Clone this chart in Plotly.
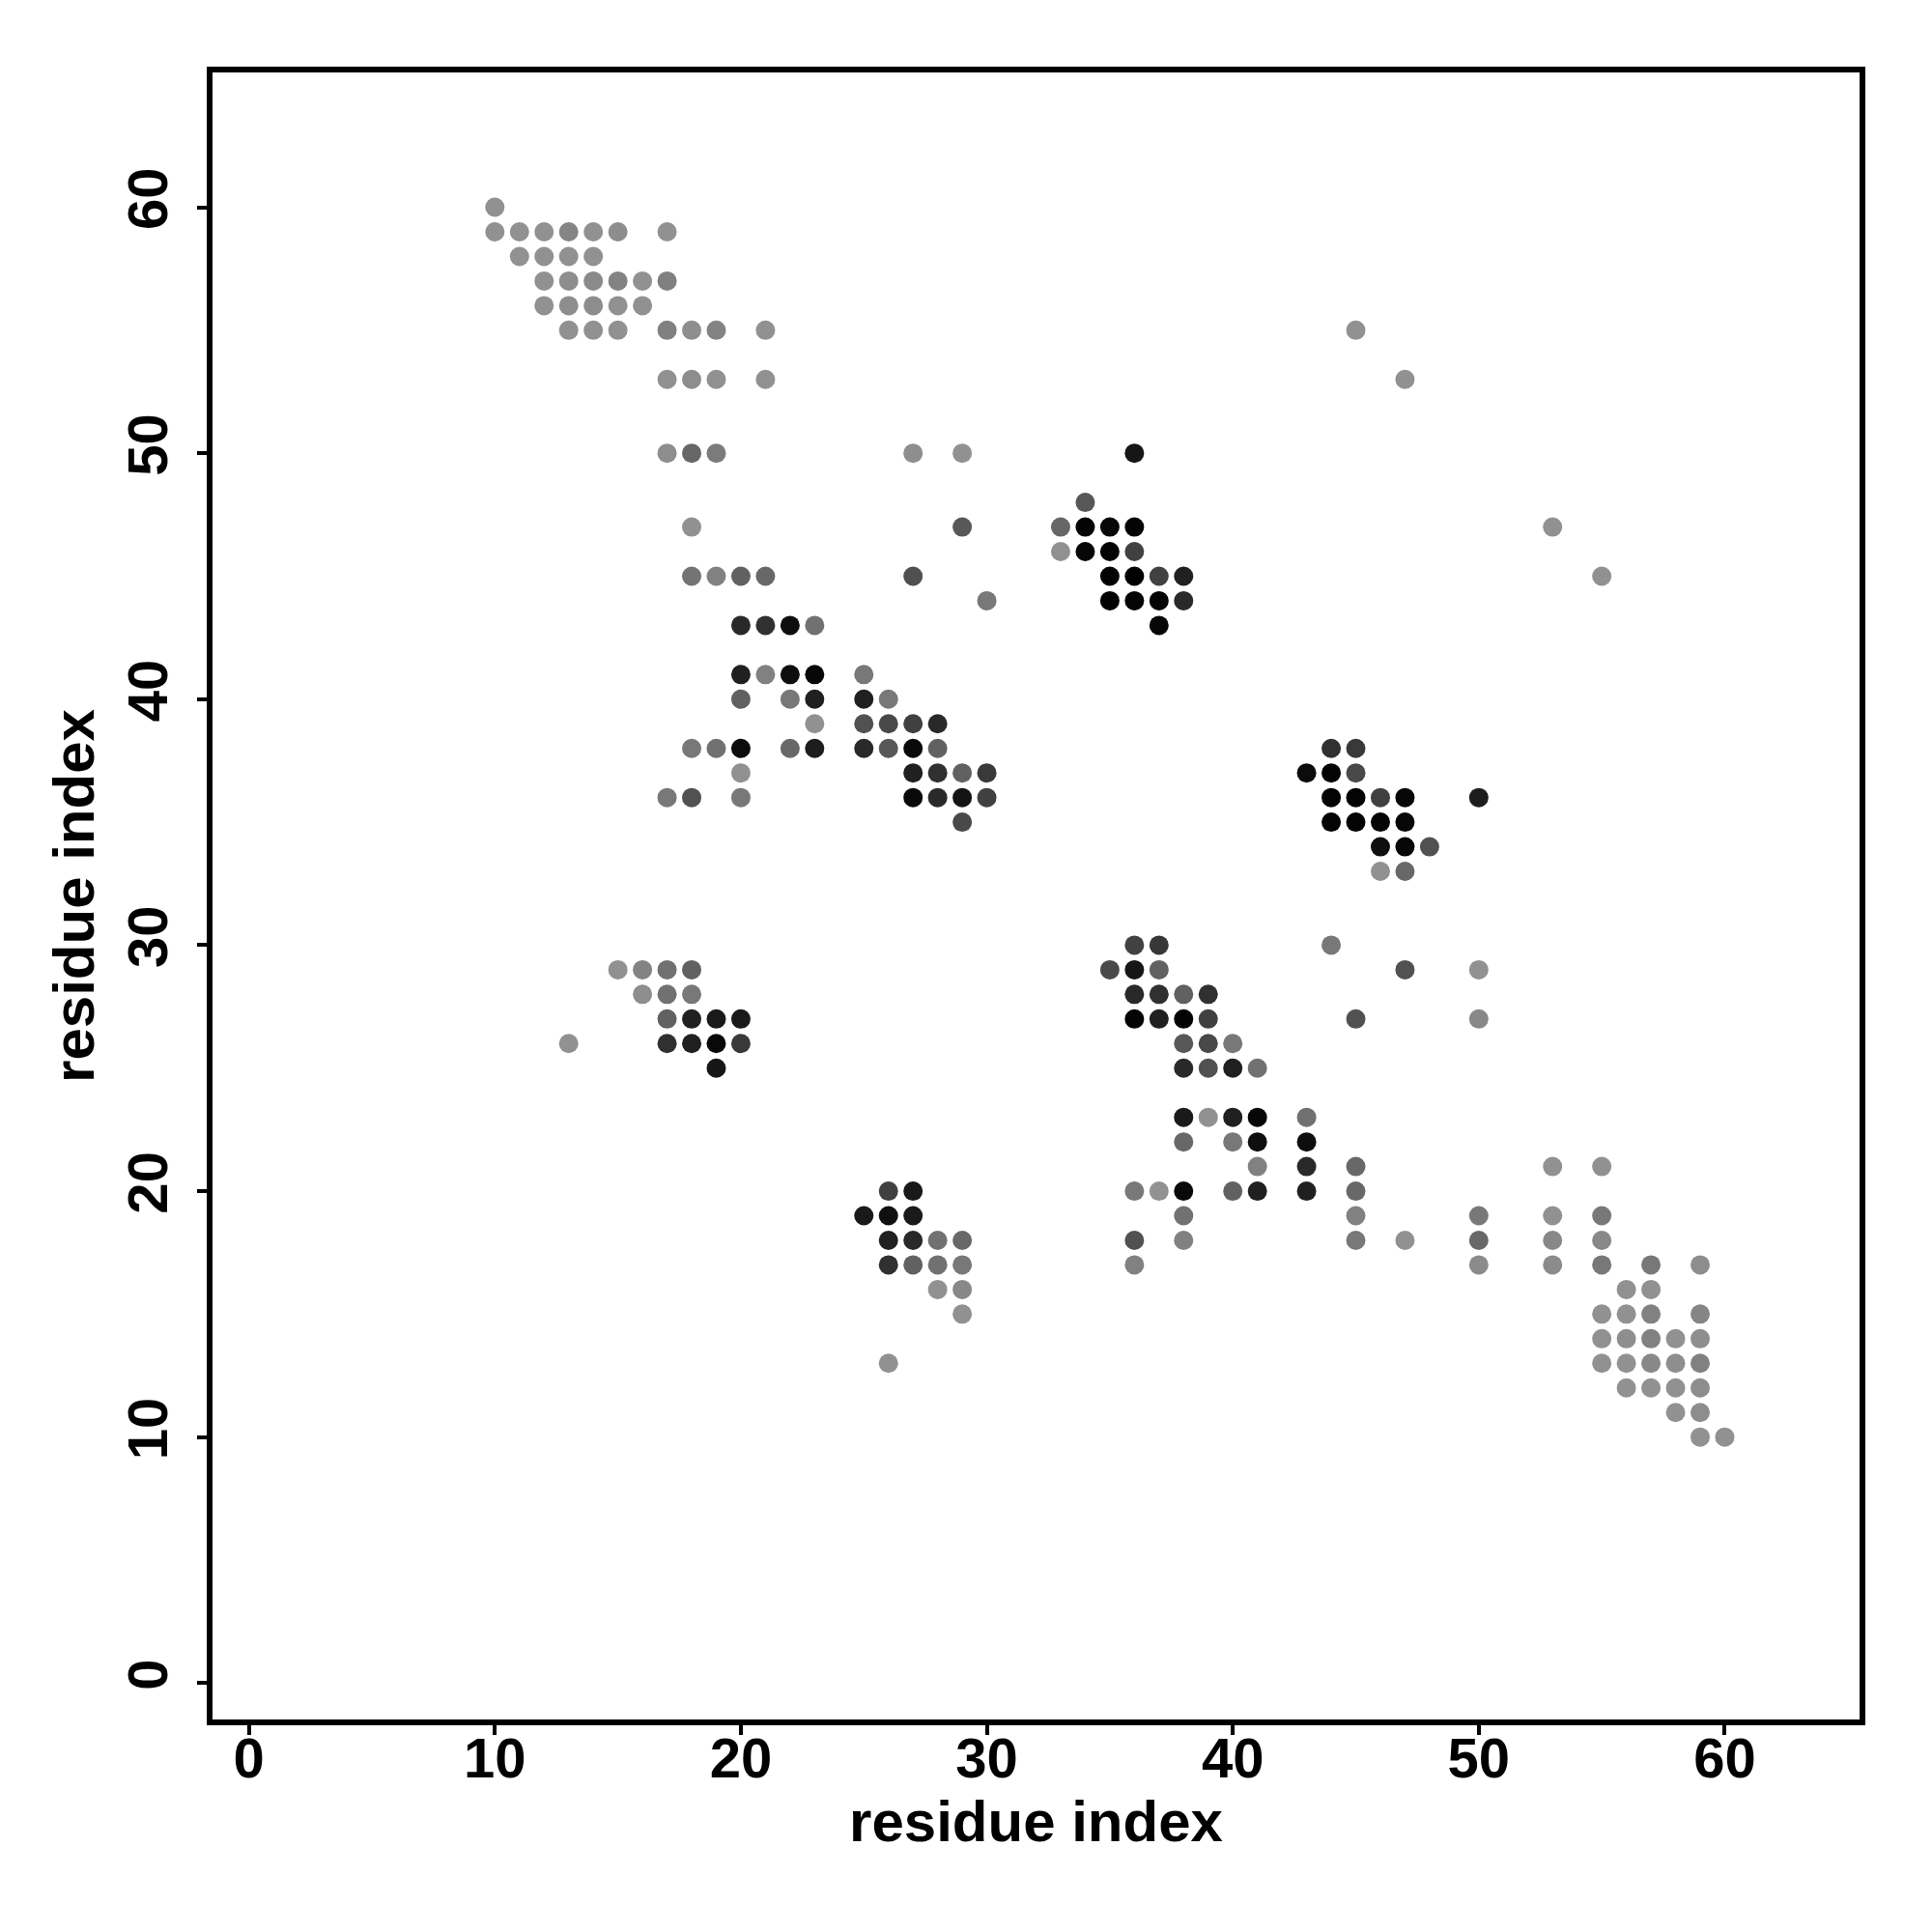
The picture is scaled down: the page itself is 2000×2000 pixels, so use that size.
import plotly.graph_objects as go

# Contact map: residue i (x), residue j (y), contact strength (0 = weak/light grey, 1 = strong/black)
res_i = [
    10,
    10, 11, 12, 13, 14, 15, 17,
    11, 12, 13, 14,
    12, 13, 14, 15, 16, 17,
    12, 13, 14, 15, 16,
    13, 14, 15, 17, 18, 19, 21, 45,
    17, 18, 19, 21, 47,
    17, 18, 19, 27, 29, 36,
    34,
    18, 29, 33, 34, 35, 36, 53,
    33, 34, 35, 36,
    18, 19, 20, 21, 27, 35, 36, 37, 38, 55,
    30, 35, 36, 37, 38,
    20, 21, 22, 23, 37,
    20, 21, 22, 23, 25,
    20, 22, 23, 25, 26,
    23, 25, 26, 27, 28,
    18, 19, 20, 22, 23, 25, 26, 27, 28, 44, 45,
    20, 27, 28, 29, 30, 43, 44, 45,
    17, 18, 20, 27, 28, 29, 30, 44, 45, 46, 47, 50,
    29, 44, 45, 46, 47,
    46, 47, 48,
    46, 47,
    36, 37, 44,
    15, 16, 17, 18, 35, 36, 37, 47, 50,
    16, 17, 18, 36, 37, 38, 39,
    17, 18, 19, 20, 36, 37, 38, 39, 45, 50,
    13, 17, 18, 19, 20, 38, 39, 40,
    19, 38, 39, 40, 41,
    38, 39, 40, 41, 43,
    38, 40, 41, 43,
    41, 43, 45, 53, 55,
    26, 27, 36, 37, 38, 40, 41, 43, 45,
    25, 26, 27, 38, 45, 50, 53, 55,
    26, 27, 28, 29, 36, 38, 45, 47, 50, 53, 55,
    26, 27, 28, 29, 36, 50, 53, 55, 57, 59,
    28, 29, 56, 57,
    29, 55, 56, 57, 59,
    55, 56, 57, 58, 59,
    26, 55, 56, 57, 58, 59,
    56, 57, 58, 59,
    58, 59,
    59, 60,
]

res_j = [
    60,
    59, 59, 59, 59, 59, 59, 59,
    58, 58, 58, 58,
    57, 57, 57, 57, 57, 57,
    56, 56, 56, 56, 56,
    55, 55, 55, 55, 55, 55, 55, 55,
    53, 53, 53, 53, 53,
    50, 50, 50, 50, 50, 50,
    48,
    47, 47, 47, 47, 47, 47, 47,
    46, 46, 46, 46,
    45, 45, 45, 45, 45, 45, 45, 45, 45, 45,
    44, 44, 44, 44, 44,
    43, 43, 43, 43, 43,
    41, 41, 41, 41, 41,
    40, 40, 40, 40, 40,
    39, 39, 39, 39, 39,
    38, 38, 38, 38, 38, 38, 38, 38, 38, 38, 38,
    37, 37, 37, 37, 37, 37, 37, 37,
    36, 36, 36, 36, 36, 36, 36, 36, 36, 36, 36, 36,
    35, 35, 35, 35, 35,
    34, 34, 34,
    33, 33,
    30, 30, 30,
    29, 29, 29, 29, 29, 29, 29, 29, 29,
    28, 28, 28, 28, 28, 28, 28,
    27, 27, 27, 27, 27, 27, 27, 27, 27, 27,
    26, 26, 26, 26, 26, 26, 26, 26,
    25, 25, 25, 25, 25,
    23, 23, 23, 23, 23,
    22, 22, 22, 22,
    21, 21, 21, 21, 21,
    20, 20, 20, 20, 20, 20, 20, 20, 20,
    19, 19, 19, 19, 19, 19, 19, 19,
    18, 18, 18, 18, 18, 18, 18, 18, 18, 18, 18,
    17, 17, 17, 17, 17, 17, 17, 17, 17, 17,
    16, 16, 16, 16,
    15, 15, 15, 15, 15,
    14, 14, 14, 14, 14,
    13, 13, 13, 13, 13, 13,
    12, 12, 12, 12,
    11, 11,
    10, 10,
]

strength = [
    0.0,
    0.0, 0.0, 0.0, 0.08, 0.0, 0.03, 0.0,
    0.0, 0.0, 0.0, 0.0,
    0.0, 0.03, 0.05, 0.10, 0.0, 0.12,
    0.0, 0.03, 0.03, 0.0, 0.0,
    0.0, 0.0, 0.0, 0.12, 0.02, 0.10, 0.0, 0.0,
    0.0, 0.03, 0.0, 0.0, 0.0,
    0.02, 0.30, 0.15, 0.02, 0.0, 0.85,
    0.40,
    0.0, 0.40, 0.30, 0.97, 0.95, 0.97, 0.0,
    0.0, 0.95, 0.98, 0.55,
    0.20, 0.11, 0.33, 0.28, 0.45, 0.98, 1.0, 0.55, 0.78, 0.0,
    0.17, 1.0, 0.97, 0.98, 0.72,
    0.72, 0.67, 0.90, 0.22, 0.95,
    0.78, 0.11, 0.90, 0.95, 0.17,
    0.33, 0.17, 0.78, 0.78, 0.17,
    0.0, 0.44, 0.50, 0.56, 0.72,
    0.17, 0.22, 0.92, 0.28, 0.80, 0.72, 0.39, 0.94, 0.33, 0.67, 0.61,
    0.0, 0.78, 0.67, 0.33, 0.61, 0.92, 0.97, 0.50,
    0.17, 0.44, 0.17, 0.94, 0.72, 0.86, 0.56, 0.98, 0.98, 0.56, 0.95, 0.80,
    0.50, 0.98, 0.98, 0.97, 0.95,
    0.90, 0.95, 0.44,
    0.0, 0.28,
    0.55, 0.62, 0.17,
    0.0, 0.10, 0.22, 0.33, 0.50, 0.85, 0.33, 0.44, 0.0,
    0.02, 0.22, 0.17, 0.72, 0.67, 0.33, 0.67,
    0.33, 0.78, 0.82, 0.82, 0.97, 0.78, 0.97, 0.56, 0.44, 0.06,
    0.0, 0.67, 0.78, 0.94, 0.61, 0.39, 0.50, 0.17,
    0.85, 0.72, 0.44, 0.78, 0.22,
    0.82, 0.0, 0.78, 0.95, 0.22,
    0.28, 0.17, 0.90, 0.90,
    0.11, 0.72, 0.28, 0.0, 0.0,
    0.56, 0.83, 0.17, 0.0, 0.94, 0.33, 0.78, 0.78, 0.28,
    0.83, 0.89, 0.82, 0.22, 0.11, 0.17, 0.0, 0.17,
    0.78, 0.72, 0.22, 0.28, 0.44, 0.11, 0.17, 0.0, 0.28, 0.06, 0.06,
    0.67, 0.33, 0.22, 0.17, 0.11, 0.04, 0.04, 0.17, 0.17, 0.03,
    0.0, 0.06, 0.0, 0.0,
    0.0, 0.0, 0.0, 0.11, 0.08,
    0.0, 0.02, 0.11, 0.0, 0.02,
    0.0, 0.0, 0.0, 0.06, 0.02, 0.11,
    0.0, 0.0, 0.0, 0.03,
    0.0, 0.03,
    0.0, 0.0,
]

tick_vals = [0, 10, 20, 30, 40, 50, 60]
axis_label = "residue index"

FONT = "Liberation Sans"

fig = go.Figure(
    go.Scatter(
        x=res_i,
        y=res_j,
        mode="markers",
        marker=dict(
            size=20,
            color=strength,
            cmin=0,
            cmax=1,
            colorscale=[[0, "rgb(145,145,145)"], [1, "rgb(0,0,0)"]],
            line=dict(width=0),
            showscale=False,
        ),
        hoverinfo="x+y",
    )
)

axis_common = dict(
    range=[-1.48, 65.48],
    tickvals=tick_vals,
    ticks="outside",
    ticklen=10,
    tickwidth=4,
    tickcolor="black",
    showline=True,
    linewidth=6,
    linecolor="black",
    mirror=True,
    showgrid=False,
    zeroline=False,
    tickfont=dict(family=FONT, size=58, color="black", weight="bold"),
)

title_font = dict(family=FONT, size=60, color="black", weight="bold")

fig.update_xaxes(
    **axis_common,
    ticklabelstandoff=-26,
    title=dict(text=axis_label, font=title_font, standoff=10),
)
fig.update_yaxes(
    **axis_common,
    tickangle=-90,
    ticklabelstandoff=8,
    title=dict(text=axis_label, font=title_font, standoff=5),
)

fig.update_layout(
    width=2000,
    height=2000,
    margin=dict(l=212, r=83, t=67, b=228, autoexpand=False),
    plot_bgcolor="white",
    paper_bgcolor="white",
    showlegend=False,
)

fig.write_html("out.html")
